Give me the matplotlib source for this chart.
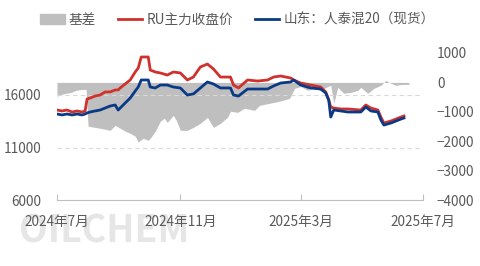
import matplotlib
matplotlib.use("Agg")
import matplotlib.pyplot as plt
from matplotlib.patches import Patch
from matplotlib.lines import Line2D
import pandas as pd

plt.rcParams['font.family'] = ['Noto Sans CJK SC', 'DejaVu Sans']

# price dates (RU futures and Shandong spot share them)
dates = ['2024-07-01', '2024-07-06', '2024-07-11', '2024-07-16', '2024-07-21', '2024-07-26',
         '2024-07-29', '2024-07-31', '2024-08-03', '2024-08-08', '2024-08-13', '2024-08-18',
         '2024-08-23', '2024-08-28', '2024-08-31', '2024-09-02', '2024-09-07', '2024-09-12',
         '2024-09-17', '2024-09-20', '2024-09-23', '2024-09-30', '2024-10-02', '2024-10-07',
         '2024-10-12', '2024-10-19', '2024-10-25', '2024-11-01', '2024-11-08', '2024-11-14',
         '2024-11-21', '2024-11-28', '2024-12-04', '2024-12-11', '2024-12-21', '2024-12-24',
         '2024-12-29', '2025-01-07', '2025-01-17', '2025-01-27', '2025-02-02', '2025-02-09',
         '2025-02-19', '2025-02-22', '2025-03-01', '2025-03-11', '2025-03-21', '2025-03-26',
         '2025-03-29', '2025-03-31', '2025-04-03', '2025-04-10', '2025-04-17', '2025-04-30',
         '2025-05-05', '2025-05-10', '2025-05-17', '2025-05-20', '2025-05-23', '2025-05-30',
         '2025-06-09', '2025-06-12']

ru_close = [14570, 14480, 14570, 14380, 14480, 14380, 14480, 15620, 15710, 15900, 16000, 16290,
            16290, 16480, 16480, 16670, 17050, 17430, 18190, 18570, 19620, 19620, 18380, 18190,
            18100, 17900, 18190, 18100, 17430, 17710, 18670, 18950, 18480, 17710, 17710, 16950,
            16670, 17430, 17330, 17430, 17710, 17810, 17620, 17430, 17140, 16950, 16760, 16290,
            15520, 14860, 14760, 14670, 14670, 14570, 15050, 14760, 14570, 13900, 13330, 13520,
            13900, 14000]

spot = [14190, 14100, 14190, 14100, 14190, 14100, 14190, 14290, 14380, 14480, 14570, 14760,
        14950, 15050, 14570, 14760, 15240, 15710, 16380, 16760, 17430, 17430, 16760, 16670,
        16950, 16950, 16760, 16670, 16000, 16100, 16670, 17240, 17050, 16670, 16670, 16000,
        15900, 16570, 16570, 16570, 16860, 17140, 17240, 17430, 16950, 16670, 16570, 16190,
        15520, 13900, 14570, 14480, 14380, 14380, 14860, 14480, 14380, 13620, 13140, 13330,
        13710, 13810]

# basis (right axis)
basis_dates = ['2024-07-01', '2024-07-05', '2024-07-10', '2024-07-15', '2024-07-20', '2024-07-25',
               '2024-07-30', '2024-08-01', '2024-08-08', '2024-08-13', '2024-08-23', '2024-08-28',
               '2024-09-02', '2024-09-07', '2024-09-12', '2024-09-17', '2024-09-20', '2024-09-25',
               '2024-09-30', '2024-10-02', '2024-10-07', '2024-10-12', '2024-10-16', '2024-10-19',
               '2024-10-25', '2024-10-28', '2024-11-01', '2024-11-08', '2024-11-14', '2024-11-21',
               '2024-11-28', '2024-12-04', '2024-12-11', '2024-12-18', '2024-12-21', '2024-12-28',
               '2025-01-04', '2025-01-14', '2025-01-19', '2025-01-29', '2025-02-08', '2025-02-18',
               '2025-02-23', '2025-03-01', '2025-03-08', '2025-03-14', '2025-03-21', '2025-03-26',
               '2025-03-31', '2025-04-03', '2025-04-07', '2025-04-13', '2025-04-20', '2025-04-27',
               '2025-04-30', '2025-05-07', '2025-05-13', '2025-05-20', '2025-05-25', '2025-05-30',
               '2025-06-04', '2025-06-09', '2025-06-17']
basis = [-470, -410, -370, -340, -270, -240, -240, -1490, -1530, -1560, -1630, -1460,
         -1560, -1660, -1730, -1830, -2030, -1900, -1970, -1900, -1660, -1320, -1220, -1360,
         -1120, -1290, -1630, -1630, -1530, -1390, -1190, -1530, -1390, -1190, -980, -1020,
         -880, -950, -780, -710, -640, -540, -200, -140, -270, -200, -270, -170,
         -100, -710, -170, -370, -340, -270, -170, -370, -200, -100, 70, -30,
         -100, -70, -70]

x_ticks = ['2024-07-01', '2024-11-01', '2025-03-01', '2025-07-01']
x_labels = ['2024年7月', '2024年11月', '2025年3月', '2025年7月']

d = pd.to_datetime(dates)
bd = pd.to_datetime(basis_dates)

fig = plt.figure(figsize=(4.8, 2.66), dpi=100)
ax = fig.add_axes([57/480, 66/266, 366/480, 147/266])
ax2 = ax.twinx()
ax.set_zorder(ax2.get_zorder() + 1)
ax.patch.set_visible(False)

ax2.fill_between(bd, 0, basis, color='#BFBFBF', linewidth=0)
ax2.set_ylim(-4000, 1000)
ax2.set_yticks([-4000, -3000, -2000, -1000, 0, 1000])

ax.plot(d, ru_close, color='#D0312D', lw=2)
ax.plot(d, spot, color='#0A3A85', lw=2)
ax.set_ylim(6000, 20000)
ax.set_yticks([6000, 11000, 16000])
for v in [11000, 16000]:
    ax.axhline(v, color='#D9D9D9', lw=0.8, ls=(0, (4, 3)), zorder=0)

ax.set_xlim(pd.Timestamp('2024-07-01'), pd.Timestamp('2025-07-01'))
ax.set_xticks(pd.to_datetime(x_ticks))
ax.set_xticklabels(x_labels)

for a in (ax, ax2):
    for s in a.spines.values():
        s.set_visible(False)
ax.spines['bottom'].set_visible(True)
ax.spines['bottom'].set_color('#BFBFBF')
ax.tick_params(axis='x', direction='in', length=4, color='#BFBFBF', pad=11,
               labelsize=9.8, labelcolor='#595959')
ax.tick_params(axis='y', length=0, pad=11, labelsize=9.8, labelcolor='#595959')
ax2.tick_params(axis='y', length=0, pad=10, labelsize=9.8, labelcolor='#595959')

handles = [Patch(color='#BFBFBF'),
           Line2D([], [], color='#D0312D', lw=2),
           Line2D([], [], color='#0A3A85', lw=2)]
fig.legend(handles, ['基差', 'RU主力收盘价', '山东：人泰混20（现货）'], ncol=3,
           loc='center', bbox_to_anchor=(0.495, 0.925), frameon=False, fontsize=9.8,
           handlelength=1.8, handletextpad=0.3, columnspacing=1.6,
           labelcolor='#595959')

# faint logo watermark behind the x labels
fig.text(0.04, 0.13, 'OILCHEM', fontsize=27, fontweight='bold', color='#E6E6E6',
         zorder=-1, va='center')

fig.savefig('out.png', dpi=100)
